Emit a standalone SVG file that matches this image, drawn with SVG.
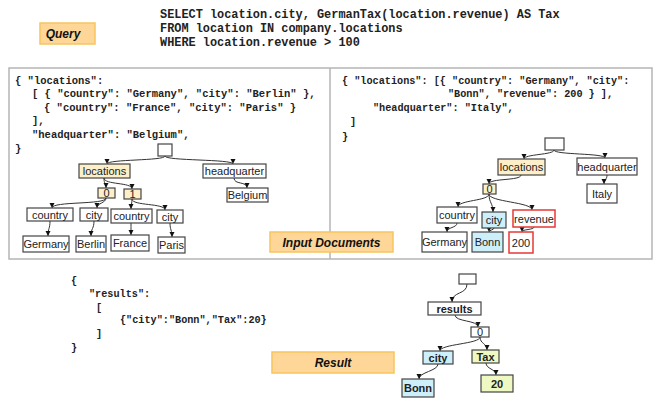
<svg xmlns="http://www.w3.org/2000/svg" width="657" height="407" viewBox="0 0 657 407">
<defs>
<marker id="ah" markerUnits="userSpaceOnUse" markerWidth="6" markerHeight="6" refX="5" refY="3" orient="auto">
<path d="M0,0.5 L5,3 L0,5.5 z" fill="#111"/>
</marker>
<style>
.mono{font-family:"Liberation Mono","Courier New",monospace;font-weight:bold;fill:#222;white-space:pre}
.sql{font-size:11.9px}
.jl{font-size:10.5px}
.jr{font-size:10.2px}
.jres{font-size:10.2px}
.lab rect{fill:#FDD698;stroke:#F7C55E;stroke-width:1.5}
.lab text{font-family:"Liberation Sans",Arial,sans-serif;font-weight:bold;font-style:italic;font-size:12px;fill:#111;text-anchor:middle}
.n rect{fill:#fff;stroke:#444;stroke-width:1.2}
.n text{font-family:"Liberation Sans",Arial,sans-serif;font-size:11px;fill:#222;text-anchor:middle}
.b rect{fill:#FCEFC9}
.bl rect{fill:#CDEFFA}
.yg rect{fill:#EEF8C2}
.red rect{stroke:#E53935;stroke-width:1.5}
.bold text{font-weight:bold}
.conn path{fill:none;stroke:#333;stroke-width:1;marker-end:url(#ah)}
.frame{fill:none;stroke:#B5B5B5;stroke-width:1.5}
</style>
</defs>
<rect width="657" height="407" fill="#fff"/>

<!-- Query label -->
<g id="label-query" class="lab"><rect x="40" y="23" width="55" height="21"/><text x="63" y="38">Query</text></g>
<g id="sql">
<text class="mono sql" x="160" y="18">SELECT location.city, GermanTax(location.revenue) AS Tax</text>
<text class="mono sql" x="160" y="32">FROM location IN company.locations</text>
<text class="mono sql" x="160" y="46">WHERE location.revenue &gt; 100</text>
</g>

<!-- frame -->
<rect class="frame" x="9" y="68" width="643" height="191"/>
<line class="frame" x1="330" y1="68" x2="330" y2="259"/>

<!-- left JSON -->
<g id="json-left">
<text class="mono jl" x="15" y="83.5">{ "locations":</text>
<text class="mono jl" x="32" y="97">[ { "country": "Germany", "city": "Berlin" },</text>
<text class="mono jl" x="44" y="110.5">{ "country": "France", "city": "Paris" }</text>
<text class="mono jl" x="32" y="124">],</text>
<text class="mono jl" x="32" y="137.5">"headquarter": "Belgium",</text>
<text class="mono jl" x="15" y="152">}</text>
</g>

<!-- right JSON -->
<g id="json-right">
<text class="mono jr" x="342" y="83.5">{ "locations": [{ "country": "Germany", "city":</text>
<text class="mono jr" x="448" y="97">"Bonn", "revenue": 200 } ],</text>
<text class="mono jr" x="373" y="110.5">"headquarter": "Italy",</text>
<text class="mono jr" x="350" y="125">]</text>
<text class="mono jr" x="342" y="140">}</text>
</g>

<!-- result JSON -->
<g id="json-result">
<text class="mono jres" x="71" y="283.5">{</text>
<text class="mono jres" x="89" y="296.5">"results":</text>
<text class="mono jres" x="96" y="310.5">[</text>
<text class="mono jres" x="120" y="322.5">{"city":"Bonn","Tax":20}</text>
<text class="mono jres" x="96" y="336.5">]</text>
<text class="mono jres" x="71" y="350.5">}</text>
</g>

<g id="label-input" class="lab"><rect x="270" y="232" width="123" height="20"/><text x="331.5" y="246.5">Input Documents</text></g>
<g id="label-result" class="lab"><rect x="272" y="352" width="122" height="21"/><text x="333" y="366.5">Result</text></g>

<!-- connectors -->
<g id="connectors" class="conn">
<path d="M165,156 C165,161 107,159 107,164"/>
<path d="M165,156 C165,161 233,159 233,164"/>
<path d="M104,178 C104,185 106,182 106,188"/>
<path d="M104,178 C104,185 132,182 132,189"/>
<path d="M106,198 C106,205 52,201 52,208"/>
<path d="M106,198 C106,203 97,203 97,208"/>
<path d="M132,199 C132,203 131,205 131,209"/>
<path d="M132,199 C132,206 165,203 165,210"/>
<path d="M50,221 C50,229 48,228 48,236"/>
<path d="M94,221 C94,229 91,228 91,236"/>
<path d="M131,223 C131,229 131,229 131,235"/>
<path d="M170,223 C170,230 172,230 172,237"/>
<path d="M234,178 C234,185 247,181 247,188"/>

<path d="M554,150 C554,155 524,154 524,159"/>
<path d="M554,150 C554,155 605,153 605,158"/>
<path d="M521,175 C521,181 489,178 489,184"/>
<path d="M489,194 C489,201 458,200 458,207"/>
<path d="M489,194 C489,203 493,203 493,212"/>
<path d="M489,194 C489,202 532,202 532,210"/>
<path d="M457,223 C457,228 447,227 447,232"/>
<path d="M494,228 C494,230 489,230 489,232"/>
<path d="M534,227 C534,230 522,229 522,232"/>
<path d="M607,175 C607,180 604,179 604,184"/>

<path d="M467,284 C467,295 452,291 452,302"/>
<path d="M455,315 C455,322 478,320 478,327"/>
<path d="M480,337 C480,344 440,344 440,351"/>
<path d="M480,337 C480,344 487,343 487,350"/>
<path d="M438,364 C438,371 419,372 419,379"/>
<path d="M486,363 C486,369 496,369 496,375"/>
</g>

<!-- left tree -->
<g id="l-root" class="n"><rect x="158" y="144" width="14" height="12"/></g>
<g id="l-locations" class="n b"><rect x="79" y="164" width="51" height="14"/><text x="104.5" y="175">locations</text></g>
<g id="l-headquarter" class="n"><rect x="203" y="164" width="63" height="14"/><text x="234.5" y="175">headquarter</text></g>
<g id="l-belgium" class="n"><rect x="227" y="188" width="41" height="14"/><text x="247.5" y="199">Belgium</text></g>
<g id="l-0" class="n b"><rect x="98" y="188" width="17" height="10"/><text x="106.5" y="197">0</text></g>
<g id="l-1" class="n b"><rect x="124" y="189" width="17" height="10"/><text x="132.5" y="198">1</text></g>
<g id="l-country1" class="n"><rect x="27" y="208" width="46" height="13"/><text x="50" y="218.5">country</text></g>
<g id="l-city1" class="n"><rect x="80" y="208" width="28" height="13"/><text x="94" y="218.5">city</text></g>
<g id="l-country2" class="n"><rect x="111" y="209" width="41" height="14"/><text x="131.5" y="220">country</text></g>
<g id="l-city2" class="n"><rect x="157" y="210" width="26" height="13"/><text x="170" y="220.5">city</text></g>
<g id="l-germany" class="n"><rect x="23" y="236" width="46" height="16"/><text x="46" y="248">Germany</text></g>
<g id="l-berlin" class="n"><rect x="76" y="236" width="30" height="16"/><text x="91" y="248">Berlin</text></g>
<g id="l-france" class="n"><rect x="111" y="235" width="38" height="16"/><text x="130" y="247">France</text></g>
<g id="l-paris" class="n"><rect x="158" y="237" width="27" height="16"/><text x="171.5" y="249">Paris</text></g>

<!-- right tree -->
<g id="r-root" class="n"><rect x="545" y="138" width="19" height="12"/></g>
<g id="r-locations" class="n b"><rect x="498" y="159" width="47" height="16"/><text x="521.5" y="171">locations</text></g>
<g id="r-headquarter" class="n"><rect x="577" y="158" width="60" height="17"/><text x="607" y="170.5">headquarter</text></g>
<g id="r-italy" class="n"><rect x="587" y="184" width="30" height="19"/><text x="602" y="197.5">Italy</text></g>
<g id="r-0" class="n b"><rect x="483" y="184" width="13" height="10"/><text x="489.5" y="193">0</text></g>
<g id="r-country" class="n"><rect x="437" y="207" width="40" height="16"/><text x="457" y="219">country</text></g>
<g id="r-city" class="n bl"><rect x="482" y="212" width="24" height="16"/><text x="494" y="224">city</text></g>
<g id="r-revenue" class="n red"><rect x="513" y="210" width="42" height="17"/><text x="534" y="222.5">revenue</text></g>
<g id="r-germany" class="n"><rect x="422" y="232" width="45" height="20"/><text x="444.5" y="246">Germany</text></g>
<g id="r-bonn" class="n bl"><rect x="472" y="232" width="31" height="20"/><text x="487.5" y="246">Bonn</text></g>
<g id="r-200" class="n red"><rect x="509" y="232" width="24" height="21"/><text x="521" y="246.5">200</text></g>

<!-- result tree -->
<g id="res-root" class="n"><rect x="459" y="274" width="17" height="10"/></g>
<g id="res-results" class="n bold"><rect x="428" y="302" width="53" height="13"/><text x="454.5" y="312.5">results</text></g>
<g id="res-0" class="n"><rect x="471" y="327" width="18" height="10"/><text x="480" y="336">0</text></g>
<g id="res-city" class="n bl bold"><rect x="423" y="351" width="30" height="13"/><text x="438" y="361.5">city</text></g>
<g id="res-tax" class="n yg bold"><rect x="472" y="350" width="27" height="13"/><text x="485.5" y="360.5">Tax</text></g>
<g id="res-bonn" class="n bl bold"><rect x="402" y="379" width="32" height="18"/><text x="418" y="392">Bonn</text></g>
<g id="res-20" class="n yg bold"><rect x="481" y="375" width="32" height="17"/><text x="497" y="387.5">20</text></g>
</svg>
